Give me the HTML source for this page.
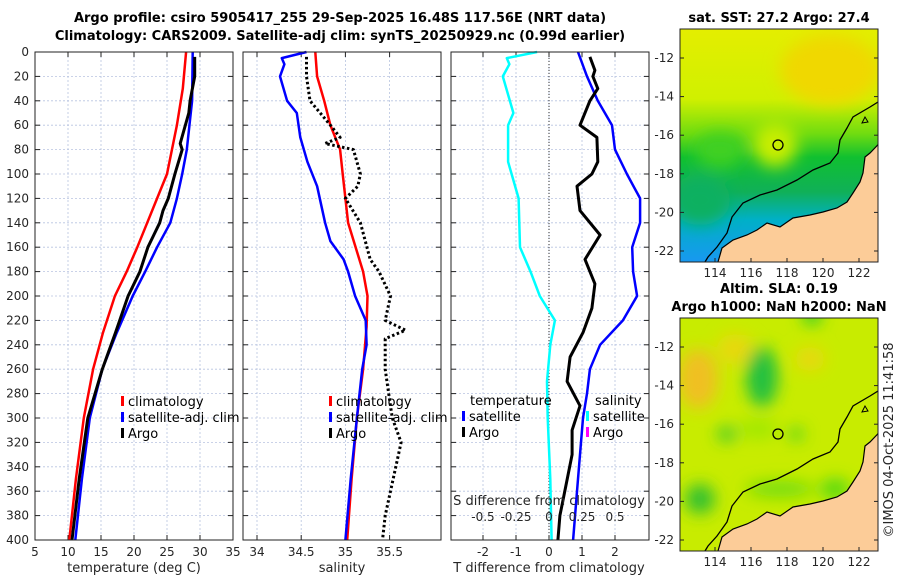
<!DOCTYPE html>
<html><head><meta charset="utf-8"><style>
body{margin:0;background:#fff;}
svg{display:block;font-family:"DejaVu Sans","Liberation Sans",sans-serif;}
.tk{font-size:12px;fill:#262626;}
.ttl{font-size:13px;font-weight:bold;fill:#000;}
.lg{font-size:13px;fill:#000;}
</style></head><body>
<svg id="c" width="900" height="580" viewBox="0 0 900 580">
<defs>
<filter id="blur6"><feGaussianBlur stdDeviation="8"/></filter>
<clipPath id="m1c"><rect x="680" y="29" width="198" height="233"/></clipPath>
<clipPath id="m2c"><rect x="680" y="318" width="198" height="233"/></clipPath>
<linearGradient id="sstg" x1="0" y1="0" x2="0" y2="1">
<stop offset="0" stop-color="#e4ee00"/><stop offset="0.3" stop-color="#d0f000"/>
<stop offset="0.45" stop-color="#70dc10"/><stop offset="0.55" stop-color="#10c030"/>
<stop offset="0.7" stop-color="#10b058"/><stop offset="0.82" stop-color="#00b0c8"/>
<stop offset="1" stop-color="#1898f0"/></linearGradient>
</defs>
<text class="ttl" x="340" y="22" text-anchor="middle">Argo profile: csiro 5905417_255 29-Sep-2025 16.48S 117.56E (NRT data)</text>
<text class="ttl" x="340" y="40" text-anchor="middle">Climatology: CARS2009. Satellite-adj clim: synTS_20250929.nc (0.99d earlier)</text>
<g id="panels"></g>
<g id="maps"></g>
<text class="tk" transform="translate(893,440) rotate(-90)" text-anchor="middle" style="font-size:13px">©IMOS 04-Oct-2025 11:41:58</text>
</svg>
<script>
// ---- data ----
const depthTicks=[0,20,40,60,80,100,120,140,160,180,200,220,240,260,280,300,320,340,360,380,400];
const tempTicks=[5,10,15,20,25,30,35];
const salTicks=[34,34.5,35,35.5];
const tdiffTicks=[-2,-1,0,1,2];
const sdiffTicks=[-0.5,-0.25,0,0.25,0.5];
const tdiffTickLabels=["-2","-1","0","1","2"];
const sdiffTickLabels=["-0.5","-0.25","0","0.25","0.5"];

const climTdepth=[0,30,60,100,120,140,160,180,200,230,260,300,350,400];
const climT=[27.9,27.4,26.5,25.0,23.5,22.0,20.5,18.9,17.1,15.3,13.8,12.4,11.2,10.2];
const satTdepth=[0,40,80,100,120,140,160,180,200,230,260,300,350,400];
const satT=[28.9,28.8,28.0,27.3,26.5,25.5,23.5,21.7,19.8,17.4,15.2,13.3,12.1,11.1];
const argoTdepth=[4,20,40,50,75,80,100,120,130,140,150,160,180,200,230,260,300,350,400];
const argoT=[29.2,29.2,28.5,28.3,27.0,27.3,26.2,25.2,24.4,23.9,23.0,22.1,20.9,19.1,17.2,15.2,13.0,11.7,10.6];

const climSdepth=[0,20,40,60,80,100,140,180,200,225,260,300,350,400];
const climS=[34.66,34.68,34.76,34.83,34.94,34.97,35.03,35.20,35.25,35.24,35.20,35.13,35.07,35.02];
const satSdepth=[0,5,10,20,40,50,70,90,110,140,155,170,180,200,220,240,260,300,350,400];
const satS=[34.56,34.28,34.31,34.26,34.34,34.45,34.49,34.57,34.68,34.77,34.83,34.98,35.03,35.11,35.23,35.24,35.19,35.13,35.06,35.0];
const argoSdepth=[4,20,40,60,70,75,80,100,110,120,140,170,180,200,220,228,235,260,280,300,320,340,360,380,400];
const argoS=[34.56,34.56,34.60,34.83,34.94,34.77,35.09,35.17,35.14,35.0,35.17,35.28,35.38,35.51,35.45,35.68,35.45,35.45,35.49,35.53,35.63,35.57,35.51,35.45,35.42];

const sdiffDepth=[0,5,10,20,50,60,90,120,160,180,200,220,240,270,300,350,400];
const sdiffSat=[-0.09,-0.32,-0.30,-0.35,-0.27,-0.31,-0.31,-0.23,-0.22,-0.14,-0.07,0.045,0.01,-0.015,-0.01,0.01,0.02];
const tdiffSatDepth=[0,20,40,60,80,100,120,140,160,180,200,220,240,260,280,300,350,400];
const tdiffSat=[0.88,1.15,1.48,1.91,2.0,2.36,2.76,2.76,2.52,2.55,2.67,2.24,1.55,1.24,1.15,1.03,0.88,0.73];
const tdiffArgoDepth=[4,15,20,30,40,60,70,90,100,110,130,150,170,190,210,230,250,270,290,310,330,360,380,400];
const tdiffArgo=[1.24,1.39,1.33,1.48,1.24,0.94,1.45,1.48,1.30,0.85,0.94,1.55,1.09,1.39,1.30,1.03,0.64,0.55,0.94,0.70,0.70,0.48,0.33,0.27];

// ---- helpers ----
const NS="http://www.w3.org/2000/svg";
const G=document.getElementById('panels');
function mk(tag,attrs,parent,txt){const e=document.createElementNS(NS,tag);for(const k in attrs)e.setAttribute(k,attrs[k]);if(txt!==undefined)e.textContent=txt;(parent||G).appendChild(e);return e;}
const Y0=52,YS=1.22;
const yD=d=>Y0+d*YS;
const W=198,H=488;
const xT=t=>35+(t-5)*6.6;
const xS=s=>257+(s-34)*88.4;
const xTd=t=>549+t*33;
const xSd=s=>549+s*132;

function frame(px){
  mk('rect',{x:px,y:Y0,width:W,height:H,fill:'#fff',stroke:'none'});
}
function hgrid(px){
  depthTicks.forEach(d=>{const y=yD(d);
    const l=mk('line',{x1:px,x2:px+W,y1:y,y2:y,stroke:'#b8c4e0','stroke-width':0.8,'stroke-dasharray':'2,2'});
    
    
    mk('line',{x1:px,x2:px+5,y1:y,y2:y,stroke:'#222'});mk('line',{x1:px+W-5,x2:px+W,y1:y,y2:y,stroke:'#222'});});
}
function vgrid(px,vals,f,labels,ly){
  vals.forEach((v,i)=>{const x=f(v);
    const l=mk('line',{x1:x,x2:x,y1:Y0,y2:Y0+H,stroke:'#b8c4e0','stroke-width':0.8,'stroke-dasharray':'2,2'});
    
    
    mk('line',{x1:x,x2:x,y1:Y0+H-5,y2:Y0+H,stroke:'#222'});mk('line',{x1:x,x2:x,y1:Y0,y2:Y0+5,stroke:'#222'});
    if(labels){const t=mk('text',{class:'tk',x:x,y:ly,'text-anchor':'middle'},G,labels[i]);
      
      }
  });
}
function line(depths,vals,f,color,w,dash,name){
  const pts=depths.map((d,i)=>f(vals[i]).toFixed(1)+','+yD(d).toFixed(1)).join(' ');
  const p=mk('polyline',{points:pts,fill:'none',stroke:color,'stroke-width':w,'stroke-linejoin':'round'});
  if(dash)p.setAttribute('stroke-dasharray',dash);
  
  
}
function border(px){mk('rect',{x:px,y:Y0,width:W,height:H,fill:'none',stroke:'#222','stroke-width':1});}
function legendRow(x,y,color,text,name){
  mk('rect',{x:x,y:y-10,width:3,height:10,fill:color});
  const t=mk('text',{class:'lg',x:x+7,y:y},G,text);
  
  
}

// panel 1
frame(35);hgrid(35);vgrid(35,tempTicks,xT,tempTicks.map(String),556);
depthTicks.forEach(d=>{const t=mk('text',{class:'tk',x:29,y:yD(d)+4,'text-anchor':'end'},G,String(d));
  
  });
line(climTdepth,climT,xT,'#ff0000',2.5,null,'temp-climatology-line');
line(satTdepth,satT,xT,'#0000ff',2.5,null,'temp-satellite-line');
line(argoTdepth,argoT,xT,'#000',3,null,'temp-argo-line');
border(35);
mk('text',{class:'tk',x:134,y:572,'text-anchor':'middle',style:'font-size:13px'},G,'temperature (deg C)');
legendRow(121,406,'#ff0000','climatology','legend-climatology');
legendRow(121,422,'#0000ff','satellite-adj. clim','legend-satellite');
legendRow(121,438,'#000','Argo','legend-argo');

// panel 2
frame(243);hgrid(243);vgrid(243,salTicks,xS,salTicks.map(String),556);
line(climSdepth,climS,xS,'#ff0000',2.5,null,'sal-climatology-line');
line(satSdepth,satS,xS,'#0000ff',2.5,null,'sal-satellite-line');
line(argoSdepth,argoS,xS,'#000',3,'2.5,2.5','sal-argo-line');
border(243);
mk('text',{class:'tk',x:342,y:572,'text-anchor':'middle',style:'font-size:13px'},G,'salinity');
legendRow(329,406,'#ff0000','climatology','legend-climatology-2');
legendRow(329,422,'#0000ff','satellite-adj. clim','legend-satellite-2');
legendRow(329,438,'#000','Argo','legend-argo-2');

// panel 3
frame(451);hgrid(451);vgrid(451,tdiffTicks,xTd,tdiffTickLabels,556);
mk('line',{x1:549,x2:549,y1:Y0,y2:Y0+H,stroke:'#333','stroke-width':1,'stroke-dasharray':'1,2'});
line(sdiffDepth,sdiffSat,xSd,'#00ffff',2.5,null,'sdiff-satellite-line');
line(tdiffSatDepth,tdiffSat,xTd,'#0000ff',2.5,null,'tdiff-satellite-line');
line(tdiffArgoDepth,tdiffArgo,xTd,'#000',3,null,'tdiff-argo-line');
border(451);
mk('text',{class:'tk',x:549,y:572,'text-anchor':'middle',style:'font-size:13px'},G,'T difference from climatology');
mk('text',{class:'tk',x:549,y:505,'text-anchor':'middle',style:'font-size:13px'},G,'S difference from climatology');
sdiffTicks.forEach((v,i)=>{const t=mk('text',{class:'tk',x:xSd(v),y:521,'text-anchor':'middle'},G,sdiffTickLabels[i]);
  
  });
mk('text',{class:'lg',x:470,y:405},G,'temperature');
mk('text',{class:'lg',x:595,y:405},G,'salinity');
legendRow(462,421,'#0000ff','satellite','legend-t-satellite');
legendRow(462,437,'#000','Argo','legend-t-argo');
legendRow(586,421,'#00ffff','satellite','legend-s-satellite');
legendRow(586,437,'#ff00ff','Argo','legend-s-argo');

// ---- maps ----
const M=document.getElementById('maps');
const latTicks=[-12,-14,-16,-18,-20,-22];
const lonTicks=[114,116,118,120,122];
const coast=[[877.7,145],[870,153],[865,157],[863,173],[860,182],[853,193],[847,202],[837,208],[823,212],[810,215],[793,218],[780,227],[767,223],[757,230],[747,235],[733,240],[722,248],[718,262]];
const shelf=[[878,102],[870,107],[853,117],[847,128],[840,140],[838,153],[830,163],[813,170],[797,180],[777,190],[760,195],[743,203],[732,217],[727,233],[717,247],[708,257],[705,262]];
const latY=l=>58+(-12-l)*19.3;
const lonX=l=>715+(l-114)*18;
function mapAxes(off,nm){
  latTicks.forEach(l=>{const y=latY(l)+off;
    mk('line',{x1:680,x2:684,y1:y,y2:y,stroke:'#222'},M);mk('line',{x1:874,x2:878,y1:y,y2:y,stroke:'#222'},M);
    const t=mk('text',{class:'tk',x:674,y:y+4,'text-anchor':'end'},M,String(l));
    
    });
  lonTicks.forEach(l=>{const x=lonX(l);
    mk('line',{x1:x,x2:x,y1:262+off-4,y2:262+off,stroke:'#222'},M);
    const t=mk('text',{class:'tk',x:x,y:277+off,'text-anchor':'middle'},M,String(l));
    
    });
  mk('rect',{x:680,y:29+off,width:198,height:233,fill:'none',stroke:'#222'},M);
}
function drawMap(off,clip,bgFill,blobs,nm){
  const g=mk('g',{'clip-path':'url(#'+clip+')'},M);
  
  
  mk('rect',{x:680,y:29+off,width:198,height:233,fill:bgFill},g);
  const bg=mk('g',{filter:'url(#blur6)'},g);
  blobs.forEach(b=>mk('ellipse',{cx:b[0],cy:b[1]+off,rx:b[2],ry:b[3],fill:b[4]},bg));
  const landPts=coast.map(p=>p[0]+','+(p[1]+off)).join(' ')+' 880,'+(264+off)+' 880,'+(140+off);
  mk('polygon',{points:landPts,fill:'#fccc98',stroke:'#000','stroke-width':1.2},g);
  mk('polyline',{points:shelf.map(p=>p[0]+','+(p[1]+off)).join(' '),fill:'none',stroke:'#000','stroke-width':1.3},g);
  mk('path',{d:`M862 ${123+off} l3 -6 l3 5 z`,fill:'none',stroke:'#000'},g);
  mk('circle',{cx:778,cy:145+off,r:5,fill:'none',stroke:'#000','stroke-width':1.3},g);
}
mk('text',{class:'ttl',x:779,y:22},M,'sat. SST: 27.2 Argo: 27.4').setAttribute('text-anchor','middle');
drawMap(0,'m1c','url(#sstg)',[[830,70,50,35,'#f0d800'],[775,145,22,22,'#c8ee00'],[720,150,25,18,'#40d020'],[700,200,30,25,'#10b060']],'sst-map');
mapAxes(0,'sst-map');
mk('text',{class:'ttl',x:779,y:293,'text-anchor':'middle'},M,'Altim. SLA: 0.19');
mk('text',{class:'ttl',x:779,y:311,'text-anchor':'middle'},M,'Argo h1000: NaN h2000: NaN');
drawMap(289,'m2c','#c8ec00',[[698,90,20,30,'#f0c020'],[735,60,18,15,'#e8d810'],[762,88,16,30,'#20c040'],[810,70,15,12,'#e8d810'],[812,25,10,12,'#40d020'],[758,140,20,10,'#a0e800'],[727,145,10,7,'#30c830'],[796,145,8,6,'#40d020'],[700,210,15,15,'#30c030'],[780,200,35,8,'#70dc10'],[835,200,15,10,'#50d818']],'sla-map');
mapAxes(289,'sla-map');
</script>
</body></html>
